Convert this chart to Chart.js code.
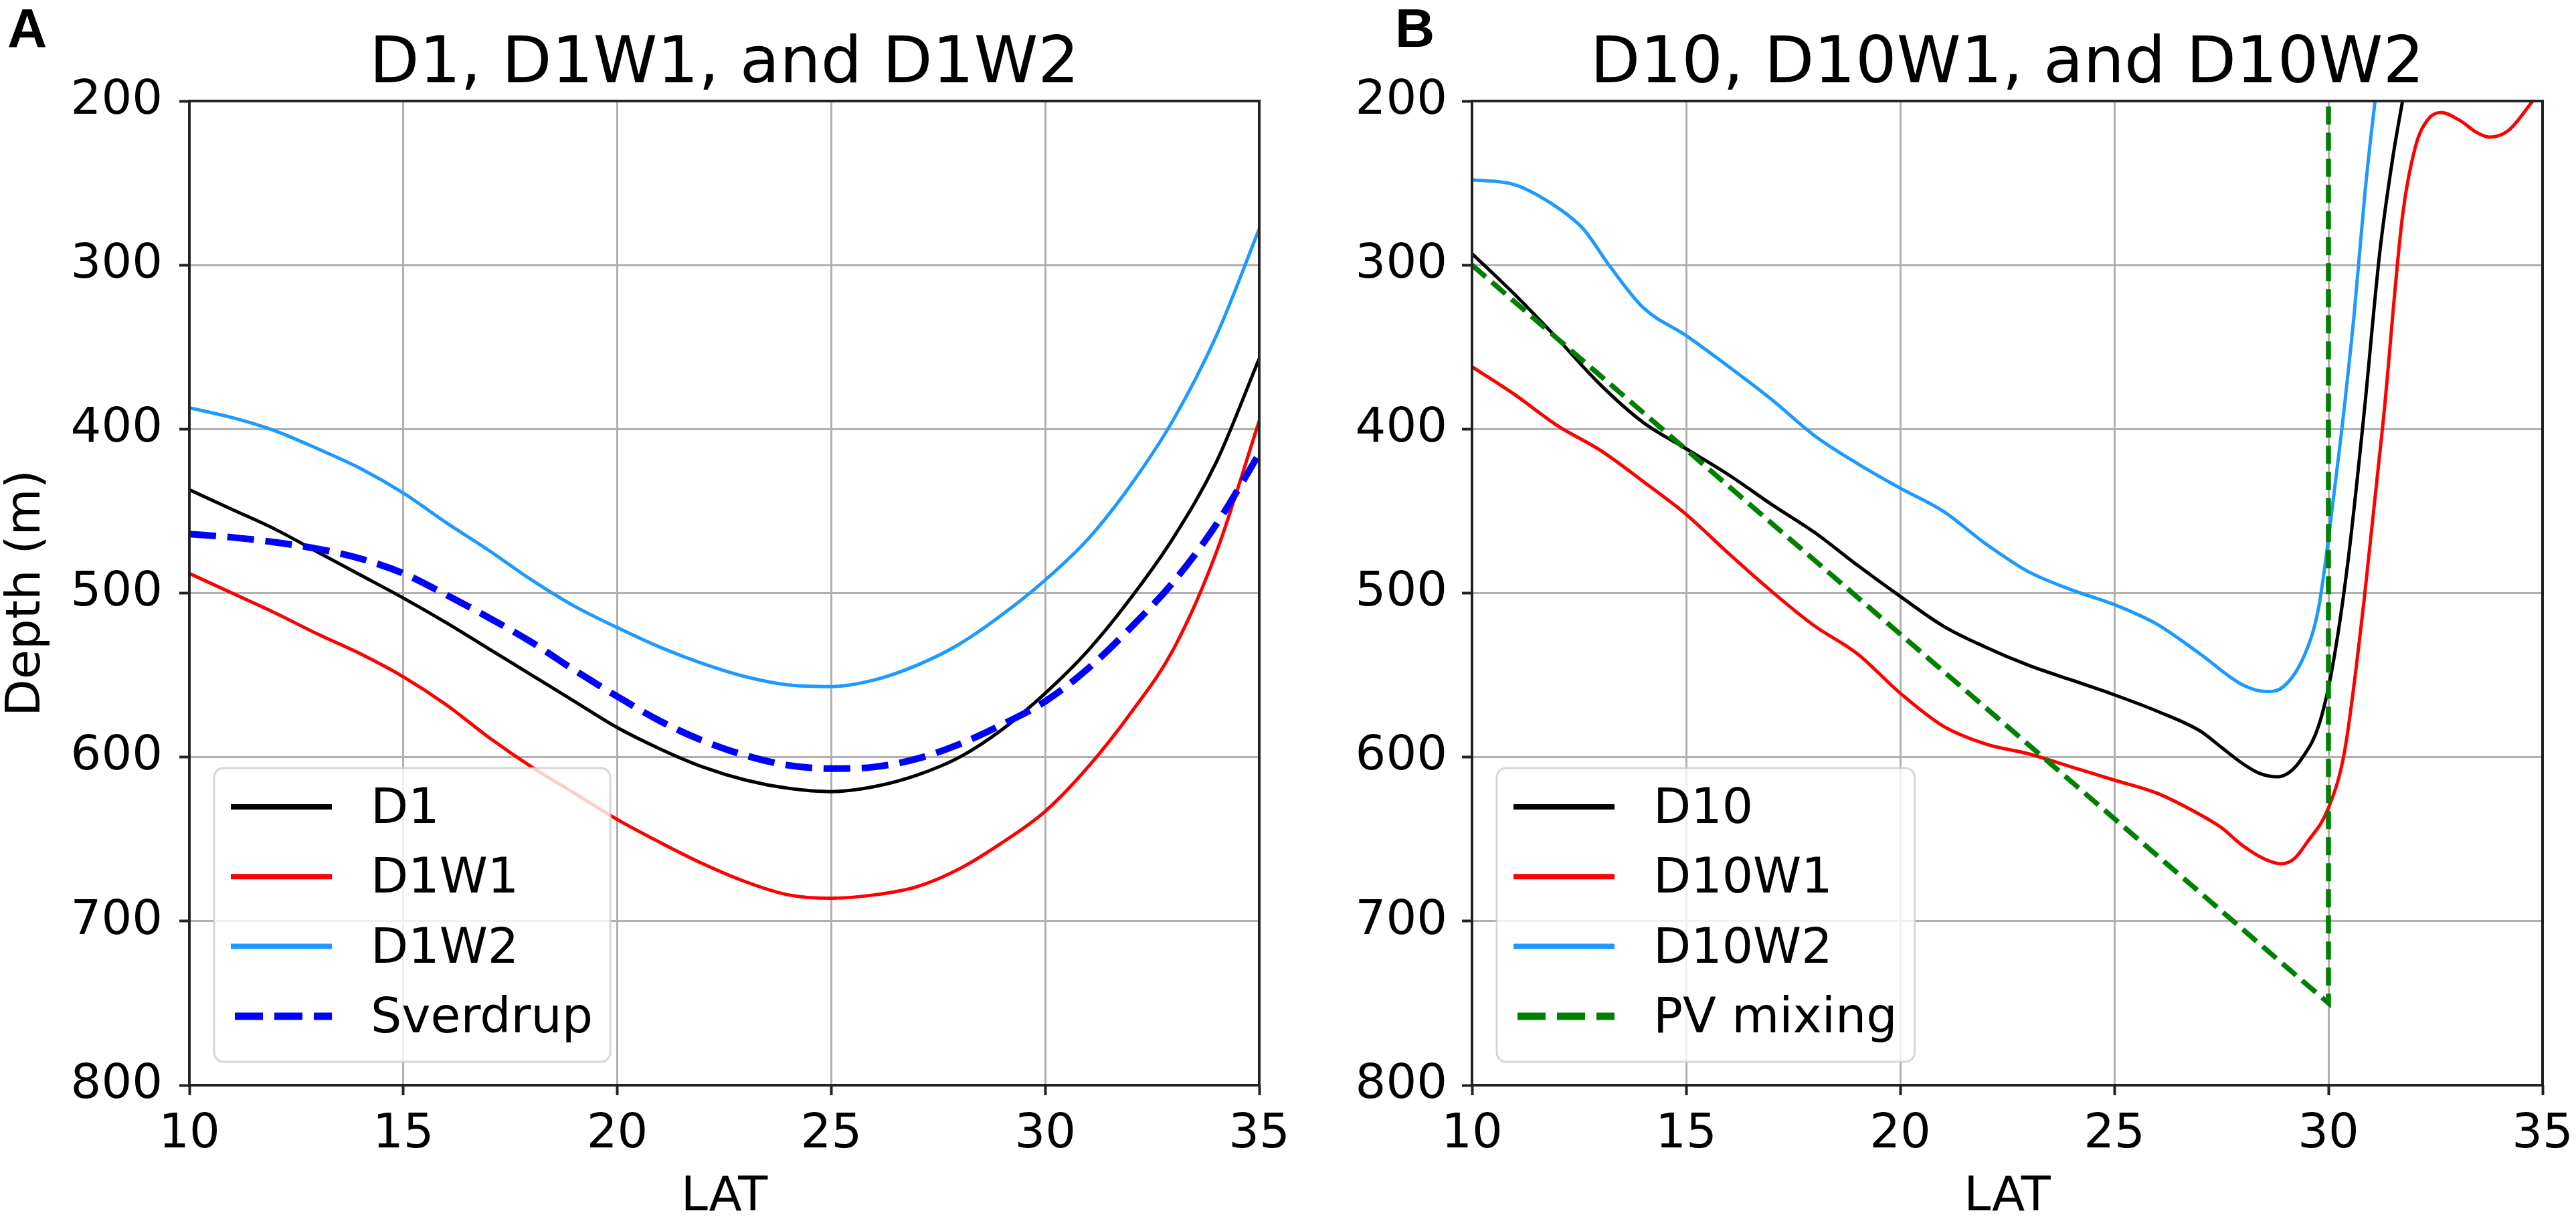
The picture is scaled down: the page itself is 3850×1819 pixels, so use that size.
<!DOCTYPE html>
<html>
<head>
<meta charset="utf-8">
<script src="https://cdn.jsdelivr.net/npm/chart.js@4.4.1/dist/chart.umd.min.js"></script>
<style>
html,body{margin:0;padding:0;background:#ffffff;}
#wrap{position:relative;width:3850px;height:1819px;background:#ffffff;}
#wrap canvas{position:absolute;top:0;}
#cA{left:0;}
#cB{left:1925px;}
</style>
</head>
<body>
<div id="wrap">
<canvas id="cA" width="1925" height="1819"></canvas>
<canvas id="cB" width="1925" height="1819"></canvas>
</div>
<script>
// ---------- Panel A data ----------
const latA = [10,11,12,13,14,15,16,17,18,19,20,21,22,23,24,25,26,27,28,29,30,31,32,33,34,35];
const d1   = [437,449,461,475,489,503,518,534,550,566,582,595,606,614,619,621,618,611,600,583,561,535,503,466,420,357];
const d1w1 = [488,500,512,525,537,551,568,588,606,622,638,652,665,676,684,686,684,679,668,652,633,606,573,534,475,395];
const d1w2 = [387,393,401,412,424,439,457,474,492,508,521,533,543,551,556,557,553,544,531,513,492,467,434,394,343,278];
const sverdrup = [464,466,469,473,479,488,501,515,530,547,563,578,590,599,605,607,606,601,592,580,566,546,521,493,458,415];

// ---------- Panel B data ----------
const latD10 = [10,11,12,13,14,15,16,17,18,19,20,21,22,23,24,25,26,27,27.5,28,28.4,28.8,29.1,29.4,29.77,30.08,30.45,30.83,31.2,31.5,31.73,32];
const d10    = [293,318,345,373,396,412,428,446,463,483,502,520,533,544,553,562,572,584,594,604,610,612,609,600,581,547,482,391,292,235,200,160];
const latD10W1 = [10,11,12,13,14,15,16,17,18,19,20,21,22,23,24,25,26,27,27.5,28,28.5,28.9,29.2,29.5,30,30.38,30.83,31.28,31.73,32.03,32.33,32.63,33.08,33.45,33.76,34.2,34.74,35];
const d10w1    = [362,379,398,413,432,452,476,499,520,537,561,581,592,598,606,614,622,635,643,654,662,665,662,652,631,596,505,395,270,228,211,207,212,219,222,218,201,192];
const latD10W2 = [10,11,12,12.6,13.2,14,15,16,17,18,19,20,21,22,23,24,25,26,27,28,28.55,28.95,29.47,29.77,30,30.3,30.6,30.86,31.09,31.3];
const d10w2    = [248,251,265,278,300,326,343,362,382,404,421,436,450,470,487,498,507,519,537,556,560,557,536,509,467,403,330,254,200,160];
const pvLat   = [10,30,30];
const pvDepth = [300,750,150];

// ---------- tick labels ----------
const latTicks = [10,15,20,25,30,35];
const depthTicks = [200,300,400,500,600,700,800];

const FONT = '"DejaVu Sans", Verdana, sans-serif';

function xy(xs, ys){ return xs.map((x,i)=>({x:x, y:ys[i]})); }

function roundRectPath(ctx, x, y, w, h, r){
  ctx.beginPath();
  ctx.moveTo(x+r, y);
  ctx.lineTo(x+w-r, y);
  ctx.arcTo(x+w, y, x+w, y+r, r);
  ctx.lineTo(x+w, y+h-r);
  ctx.arcTo(x+w, y+h, x+w-r, y+h, r);
  ctx.lineTo(x+r, y+h);
  ctx.arcTo(x, y+h, x, y+h-r, r);
  ctx.lineTo(x, y+r);
  ctx.arcTo(x, y, x+r, y, r);
  ctx.closePath();
}

const decoPlugin = {
  id: 'deco',
  afterDatasetsDraw(chart){
    const {ctx, chartArea:a} = chart;
    ctx.save();
    ctx.strokeStyle = '#222222';
    ctx.lineWidth = 4;
    ctx.setLineDash([]);
    ctx.strokeRect(a.left, a.top, a.right - a.left, a.bottom - a.top);
    ctx.restore();
  },
  afterDraw(chart, args, opts){
    const {ctx, chartArea:a} = chart;
    ctx.save();
    // panel letter
    ctx.fillStyle = '#000';
    ctx.font = 'bold 82px "Liberation Sans", Arial, sans-serif';
    ctx.textAlign = 'left';
    ctx.textBaseline = 'alphabetic';
    ctx.fillText(opts.letter, opts.letterX, 70);
    // legend
    const items = chart.data.datasets;
    ctx.font = '73px ' + FONT;
    let maxW = 0;
    items.forEach(d => { maxW = Math.max(maxW, ctx.measureText(d.label).width); });
    const bx = a.left + 37;
    const bottom = a.bottom - 35;
    const bh = 439;
    const by = bottom - bh;
    const bw = 234 + maxW + 26;
    roundRectPath(ctx, bx, by, bw, bh, 14);
    ctx.fillStyle = 'rgba(255,255,255,0.8)';
    ctx.fill();
    ctx.strokeStyle = 'rgba(204,204,204,0.8)';
    ctx.lineWidth = 3;
    ctx.stroke();
    items.forEach((d, i) => {
      const ry = by + 58 + i * 104.3;
      const dashed = d.borderDash && d.borderDash.length;
      ctx.beginPath();
      ctx.strokeStyle = d.borderColor;
      ctx.lineWidth = dashed ? 11 : 8;
      ctx.lineCap = 'butt';
      ctx.setLineDash(dashed ? [42,17] : []);
      ctx.moveTo(bx + (dashed ? 31 : 25), ry);
      ctx.lineTo(bx + 176, ry);
      ctx.stroke();
      ctx.setLineDash([]);
      ctx.fillStyle = '#000';
      ctx.textAlign = 'left';
      ctx.textBaseline = 'middle';
      ctx.fillText(d.label, bx + 234, ry + 5);
    });
    ctx.restore();
  }
};

function line(label, xs, ys, color, width, dash, order){
  return {
    label: label,
    data: xy(xs, ys),
    borderColor: color,
    backgroundColor: color,
    borderWidth: width,
    borderDash: dash || [],
    pointRadius: 0,
    pointHoverRadius: 0,
    fill: false,
    cubicInterpolationMode: 'monotone',
    clip: 0,
    order: order
  };
}

function makeOptions(cfg){
  const gridCommon = {
    color: '#b0b0b0',
    lineWidth: 3,
    drawTicks: true,
    tickLength: 15,
    tickColor: '#222222',
    tickWidth: 4
  };
  return {
    responsive: false,
    animation: false,
    devicePixelRatio: 1,
    events: [],
    layout: { padding: { left: 0, right: cfg.padRight, top: 0, bottom: 0 } },
    plugins: {
      legend: { display: false },
      tooltip: { enabled: false },
      title: {
        display: true,
        text: cfg.title,
        color: '#000',
        fullSize: false,
        font: { family: FONT, size: 97, weight: 'normal', lineHeight: 1 },
        padding: { top: 49.5, bottom: 4.5 }
      },
      deco: { letter: cfg.letter, letterX: cfg.letterX }
    },
    scales: {
      x: {
        type: 'linear',
        min: 10, max: 35,
        afterBuildTicks(s){ s.ticks = latTicks.map(v => ({value: v})); },
        ticks: {
          color: '#000',
          font: { family: FONT, size: 72, lineHeight: 1.2 },
          padding: 16,
          maxRotation: 0,
          autoSkip: false
        },
        grid: gridCommon,
        border: { display: false },
        title: {
          display: true,
          text: 'LAT',
          color: '#000',
          font: { family: FONT, size: 72, lineHeight: 0.8 },
          padding: { top: 0, bottom: 0 }
        },
        afterFit(s){ s.height = 197; s.paddingLeft = 0; s.paddingRight = 0; }
      },
      y: {
        type: 'linear',
        reverse: true,
        min: 200, max: 800,
        afterBuildTicks(s){ s.ticks = depthTicks.map(v => ({value: v})); },
        ticks: {
          color: '#000',
          font: { family: FONT, size: 72, lineHeight: 1.2 },
          padding: cfg.yTickPad,
          autoSkip: false
        },
        grid: gridCommon,
        border: { display: false },
        title: {
          display: !!cfg.yTitle,
          text: cfg.yTitle || '',
          color: '#000',
          font: { family: FONT, size: 72, lineHeight: 0.8 },
          padding: { top: 11, bottom: 0 }
        },
        afterFit(s){ s.width = cfg.yWidth; s.paddingTop = 0; s.paddingBottom = 0; }
      }
    }
  };
}

new Chart(document.getElementById('cA'), {
  type: 'line',
  data: {
    datasets: [
      line('D1', latA, d1, '#000000', 5, null, 3),
      line('D1W1', latA, d1w1, '#ff0000', 5, null, 2),
      line('D1W2', latA, d1w2, '#1e9aff', 5, null, 1),
      line('Sverdrup', latA, sverdrup, '#0000ff', 10, [40,17], 0)
    ]
  },
  options: makeOptions({ title: 'D1, D1W1, and D1W2', yTitle: 'Depth (m)', yWidth: 283, padRight: 43, yTickPad: 25, letter: 'A', letterX: 11 }),
  plugins: [decoPlugin]
});

const pv = line('PV mixing', pvLat, pvDepth, '#008000', 7.5, [27,12], 0);
pv.cubicInterpolationMode = 'default';
pv.tension = 0;

new Chart(document.getElementById('cB'), {
  type: 'line',
  data: {
    datasets: [
      line('D10', latD10, d10, '#000000', 5, null, 3),
      line('D10W1', latD10W1, d10w1, '#ff0000', 5, null, 2),
      line('D10W2', latD10W2, d10w2, '#1e9aff', 5, null, 1),
      pv
    ]
  },
  options: makeOptions({ title: 'D10, D10W1, and D10W2', yTitle: null, yWidth: 275, padRight: 50, yTickPad: 22, letter: 'B', letterX: 160 }),
  plugins: [decoPlugin]
});
</script>
</body>
</html>
